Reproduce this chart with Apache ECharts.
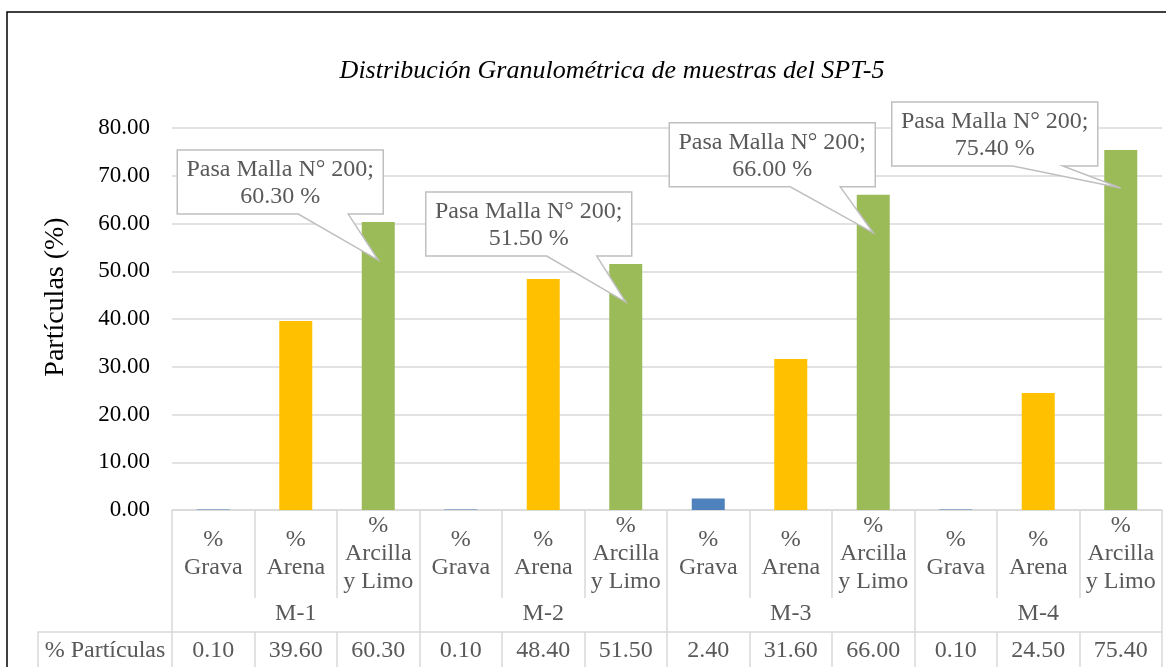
<!DOCTYPE html>
<html>
<head>
<meta charset="utf-8">
<script src="https://cdn.jsdelivr.net/npm/echarts@6/dist/echarts.min.js"></script>
<style>
  html, body { margin: 0; padding: 0; background: #fff; }
  #chart { width: 1166px; height: 667px; }
</style>
</head>
<body>
<div id="chart"></div>
<script>
// data
const categories = [
  '%\nGrava', '%\nArena', '%\nArcilla\ny Limo',
  '%\nGrava', '%\nArena', '%\nArcilla\ny Limo',
  '%\nGrava', '%\nArena', '%\nArcilla\ny Limo',
  '%\nGrava', '%\nArena', '%\nArcilla\ny Limo'
];
const fractionType = [0, 1, 2, 0, 1, 2, 0, 1, 2, 0, 1, 2];
const samples = ['M-1', 'M-2', 'M-3', 'M-4'];
const values = [0.10, 39.60, 60.30, 0.10, 48.40, 51.50, 2.40, 31.60, 66.00, 0.10, 24.50, 75.40];
const yMin = 0, yMax = 80, yStep = 10;
const rowLabel = '% Partículas';
const calloutPrefix = 'Pasa Malla N° 200;';

// styles / layout
const typeColors = ['#4F81BD', '#FFC000', '#9BBB59'];
const serif = '"Liberation Serif", "Times New Roman", serif';
const gridColor = '#D9D9D9';
const tableText = '#595959';
// callout box position relative to pointer tip (left, top)
const calloutOffsets = [[-201, -110], [-200, -110], [-204, -110], [-229, -86]];
const boxW = 206, boxH = 64, tipDepth = 38;

const chart = echarts.init(document.getElementById('chart'));

const calloutData = values
  .map((v, i) => [i, v])
  .filter(d => fractionType[d[0]] === 2);

const option = {
  animation: false,
  title: {
    text: 'Distribución Granulométrica de muestras del SPT-5',
    left: 612,
    top: 58,
    padding: 0,
    textAlign: 'center',
    textStyle: {
      fontFamily: serif,
      fontStyle: 'italic',
      fontWeight: 'normal',
      fontSize: 26,
      color: '#000'
    }
  },
  grid: { left: 172, right: 4, top: 128, bottom: 157 },
  yAxis: {
    type: 'value',
    min: yMin,
    max: yMax,
    interval: yStep,
    axisLine: { show: false },
    axisTick: { show: false },
    splitLine: { lineStyle: { color: gridColor, width: 1.5 } },
    axisLabel: {
      margin: 22,
      color: '#000',
      fontFamily: serif,
      fontSize: 23,
      formatter: v => v.toFixed(2)
    }
  },
  xAxis: [
    {
      type: 'category',
      data: categories,
      position: 'bottom',
      axisLine: { lineStyle: { color: gridColor, width: 1.5 } },
      axisTick: { show: true, interval: 0, length: 88, lineStyle: { color: gridColor, width: 1.5 } },
      axisLabel: {
        interval: 0,
        margin: 44,
        verticalAlign: 'middle',
        lineHeight: 28,
        color: tableText,
        fontFamily: serif,
        fontSize: 24
      }
    },
    {
      type: 'category',
      data: samples,
      position: 'bottom',
      axisLine: { show: false },
      axisTick: { show: true, interval: 0, length: 122, lineStyle: { color: gridColor, width: 1.5 } },
      axisLabel: {
        interval: 0,
        margin: 104,
        verticalAlign: 'middle',
        color: tableText,
        fontFamily: serif,
        fontSize: 24
      }
    },
    {
      type: 'category',
      data: values.map(v => v.toFixed(2)),
      position: 'bottom',
      offset: 122,
      axisLine: { show: true, lineStyle: { color: gridColor, width: 1.5 } },
      axisTick: { show: true, interval: 0, length: 40, lineStyle: { color: gridColor, width: 1.5 } },
      axisLabel: {
        interval: 0,
        margin: 19,
        verticalAlign: 'middle',
        color: tableText,
        fontFamily: serif,
        fontSize: 24
      }
    }
  ],
  series: [
    {
      type: 'bar',
      xAxisIndex: 0,
      data: values,
      barWidth: '40%',
      itemStyle: {
        color: p => typeColors[fractionType[p.dataIndex]]
      }
    },
    {
      type: 'custom',
      xAxisIndex: 0,
      data: calloutData,
      encode: { x: 0, y: 1 },
      clip: false,
      z: 10,
      renderItem: (params, api) => {
        const k = params.dataIndex;
        const tip = api.coord([api.value(0), api.value(1)]);
        const tx = tip[0], ty = tip[1] + tipDepth;
        const off = calloutOffsets[k];
        const L = tx + off[0], T = ty + off[1], R = L + boxW, B = T + boxH;
        return {
          type: 'group',
          children: [
            {
              type: 'polygon',
              shape: { points: [[L, T], [R, T], [R, B], [L + 171, B], [tx, ty], [L + 121, B], [L, B]] },
              style: { fill: '#fff', stroke: '#BFBFBF', lineWidth: 1.5 }
            },
            {
              type: 'text',
              x: (L + R) / 2,
              y: (T + B) / 2 + 1,
              style: {
                text: calloutPrefix + '\n' + api.value(1).toFixed(2) + ' %',
                font: '24px ' + serif,
                fill: tableText,
                align: 'center',
                verticalAlign: 'middle',
                lineHeight: 27
              }
            }
          ]
        };
      }
    }
  ],
  graphic: [
    {
      type: 'rect',
      shape: { x: 7, y: 12, width: 1300, height: 1000 },
      style: { fill: 'none', stroke: '#000', lineWidth: 1.5 },
      silent: true
    },
    {
      type: 'text',
      x: 56,
      y: 297,
      rotation: Math.PI / 2,
      style: {
        text: 'Partículas (%)',
        font: '28px ' + serif,
        fill: '#000',
        align: 'center',
        verticalAlign: 'middle'
      }
    },
    {
      type: 'polyline',
      shape: { points: [[38, 700], [38, 632], [172, 632]] },
      style: { stroke: gridColor, lineWidth: 1.5, fill: 'none' }
    },
    {
      type: 'text',
      x: 105,
      y: 651,
      style: {
        text: rowLabel,
        font: '24px ' + serif,
        fill: tableText,
        align: 'center',
        verticalAlign: 'middle'
      }
    }
  ]
};

chart.setOption(option);
</script>
</body>
</html>
